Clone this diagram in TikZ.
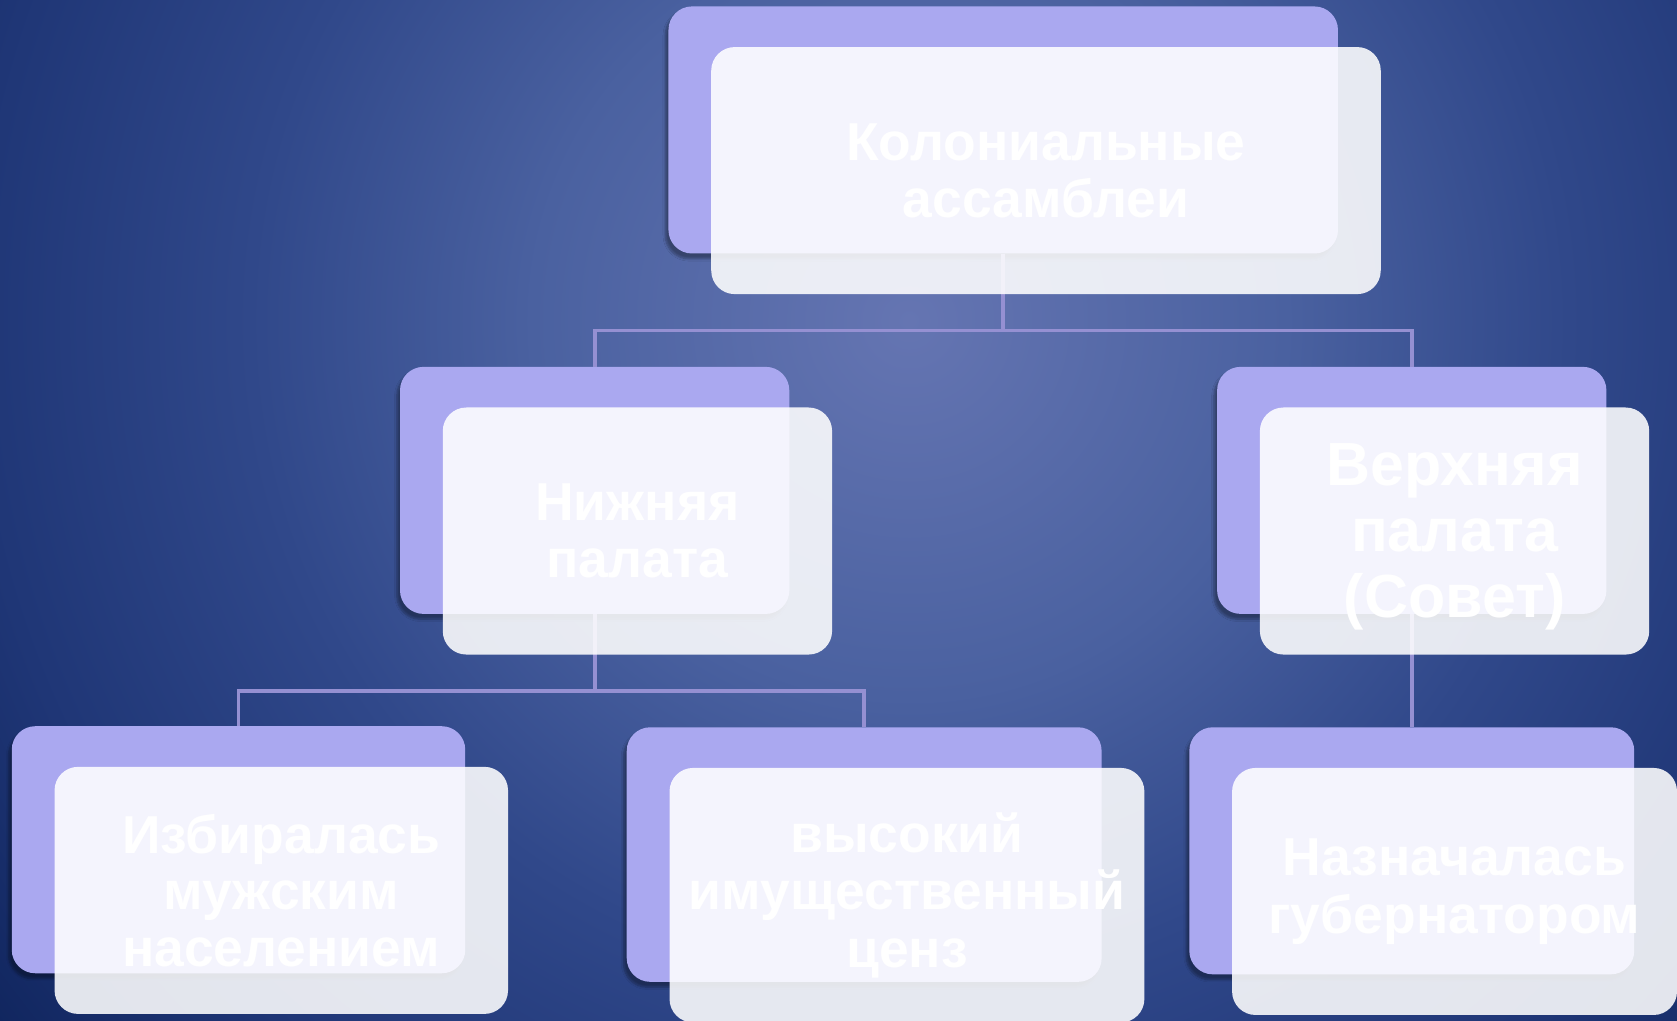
\documentclass[tikz,border=0pt]{standalone}
\usepackage{fontspec}
\setmainfont{Liberation Sans}
\usetikzlibrary{shadows.blur,calc}
\definecolor{bg0}{HTML}{6575B2}
\definecolor{bg1}{HTML}{4A61A0}
\definecolor{bg2}{HTML}{30488A}
\definecolor{bg3}{HTML}{1F3676}
\definecolor{bg4}{HTML}{0F245C}
\definecolor{backc}{HTML}{AAA8F0}
\definecolor{connc}{HTML}{9590D2}
\pgfdeclareradialshading{bgshade}{\pgfpoint{0bp}{0bp}}{color(0bp)=(bg0); color(8bp)=(bg1); color(14bp)=(bg2); color(20bp)=(bg3); color(25bp)=(bg4); color(50bp)=(bg4)}
\begin{document}
\begin{tikzpicture}[x=1pt,y=-1pt,
  backbox/.style={rectangle, rounded corners=22pt, fill=backc, inner sep=0pt,
    minimum height=231pt,
    blur shadow={shadow xshift=-3pt, shadow yshift=-5pt, shadow blur steps=6, shadow opacity=35}},
  frontbox/.style={rectangle, rounded corners=22pt, fill=white, fill opacity=0.88, text opacity=1,
    text=white, inner sep=0pt, minimum height=231pt, align=center,
    font=\fontsize{50}{53}\selectfont\bfseries},
  boxtext/.style={text=white, align=center, inner sep=0pt},
  conn/.style={draw=connc, line width=3.5pt}]
\useasboundingbox (0,0) rectangle (1568,954);
\begin{scope}
  \clip (0,0) rectangle (1568,954);
  \shade[shading=bgshade] (850,300) circle (1100pt);
\end{scope}
\coordinate (j1) at (0,309);
\coordinate (j2) at (0,646);
% back boxes
\node[backbox, minimum width=626pt] (tb) at (938,121.5) {};
\node[backbox, minimum width=364pt] (lb) at (556,458.5) {};
\node[backbox, minimum width=364pt] (rb) at (1320,458.5) {};
\node[backbox, minimum width=424pt] (blb) at (223,794.5) {};
\node[backbox, minimum width=444pt, minimum height=238pt] (bmb) at (808,799) {};
\node[backbox, minimum width=416pt] (brb) at (1320,795.5) {};
% connectors
\draw[conn] (tb.south) -- (tb.south |- j1) -| (lb.north);
\draw[conn] (tb.south |- j1) -| (rb.north);
\draw[conn] (lb.south) -- (lb.south |- j2) -| (blb.north);
\draw[conn] (lb.south |- j2) -| (bmb.north);
\draw[conn] (rb.south) -- (brb.north);
% front boxes
\node[frontbox, minimum width=626pt] (tf) at (978,159.5) {Колониальные\\ассамблеи};
\node[frontbox, minimum width=364pt] (lf) at (596,496.5) {Нижняя\\палата};
\node[frontbox, minimum width=364pt] (rf) at (1360,496.5) {};
\node[boxtext, font=\fontsize{57}{62}\selectfont\bfseries] (rft) at (1360,502) {Верхняя\\палата\\(Совет)};
\node[frontbox, minimum width=424pt] (blf) at (263,832.5) {Избиралась\\мужским\\населением};
\node[frontbox, minimum width=444pt, minimum height=238pt, font=\fontsize{50}{54}\selectfont\bfseries] (bmf) at (848,837) {высокий\\имущественный\\ценз};
\node[frontbox, minimum width=416pt, font=\fontsize{50}{54}\selectfont\bfseries] (brf) at (1360,833.5) {Назначалась\\губернатором};
\end{tikzpicture}
\end{document}
